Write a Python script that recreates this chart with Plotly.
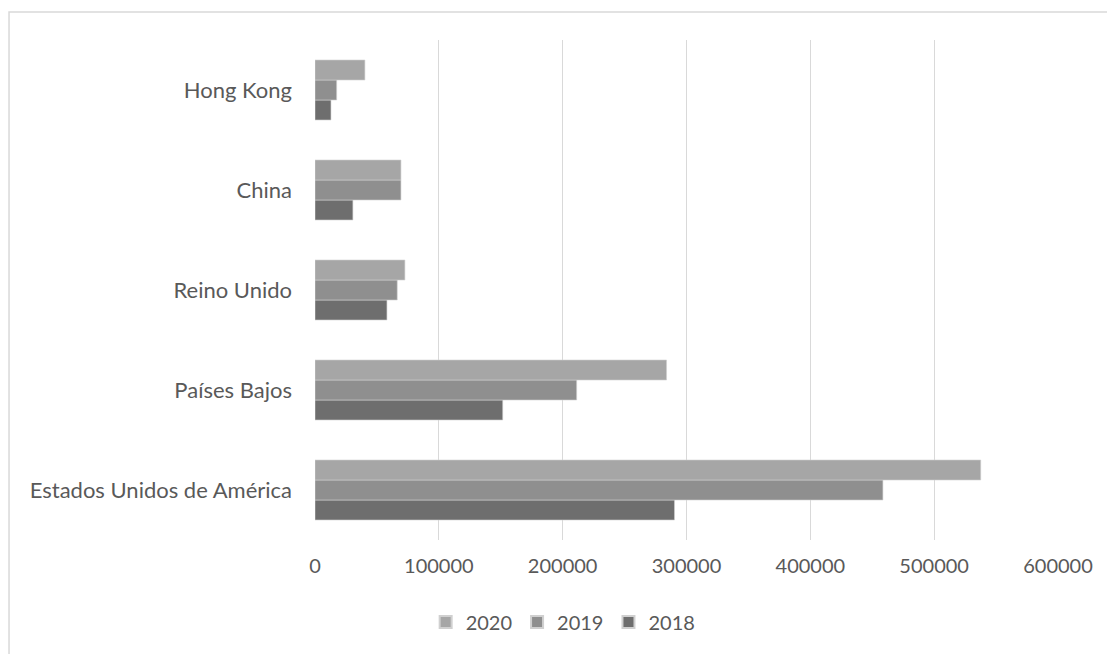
import plotly.graph_objects as go

# Export values by destination and year
countries = ["Estados Unidos de América", "Países Bajos", "Reino Unido", "China", "Hong Kong"]
years = ["2018", "2019", "2020"]
values_2018 = [290300, 151600, 58100, 30600, 12900]
values_2019 = [458600, 211300, 66400, 69400, 17500]
values_2020 = [537600, 283900, 72600, 69400, 40300]
x_ticks = [0, 100000, 200000, 300000, 400000, 500000, 600000]

series = {"2018": values_2018, "2019": values_2019, "2020": values_2020}
colors = {"2018": "#6e6e6e", "2019": "#8f8f8f", "2020": "#a6a6a6"}

FONT = "Lato"
TEXT = "#595959"

fig = go.Figure()
for yr in years:
    fig.add_trace(go.Bar(
        x=series[yr], y=countries, name=yr, orientation="h",
        marker=dict(color=colors[yr], line=dict(color="#d0d0d0", width=0.6)),
    ))

fig.update_layout(
    width=1107, height=654,
    margin=dict(l=315, r=49, t=40, b=114),
    paper_bgcolor="white", plot_bgcolor="white",
    barmode="group", bargap=0.4, bargroupgap=0,
    font=dict(family=FONT, size=20, color=TEXT),
    showlegend=True,
    legend=dict(orientation="h", x=0.334, xanchor="center", y=-0.164, yanchor="middle",
                traceorder="reversed", font=dict(size=20, color=TEXT),
                itemwidth=30, itemsizing="constant"),
    shapes=[dict(type="rect", xref="paper", yref="paper",
                 x0=-0.4118, x1=1.2, y0=-0.4, y1=1.056,
                 line=dict(color="#d9d9d9", width=1.5), layer="below")],
)
fig.update_xaxes(range=[0, 600000], tickvals=x_ticks, ticktext=[str(v) for v in x_ticks],
                 showgrid=True, gridcolor="#d9d9d9", gridwidth=1, zeroline=False,
                 showline=False, ticks="", ticklabelstandoff=12,
                 tickfont=dict(size=20, color=TEXT))
fig.update_yaxes(categoryorder="array", categoryarray=countries, showgrid=False,
                 zeroline=False, showline=False, ticks="", ticklabelstandoff=22,
                 tickfont=dict(size=22, color=TEXT))

fig.write_html("out.html")
